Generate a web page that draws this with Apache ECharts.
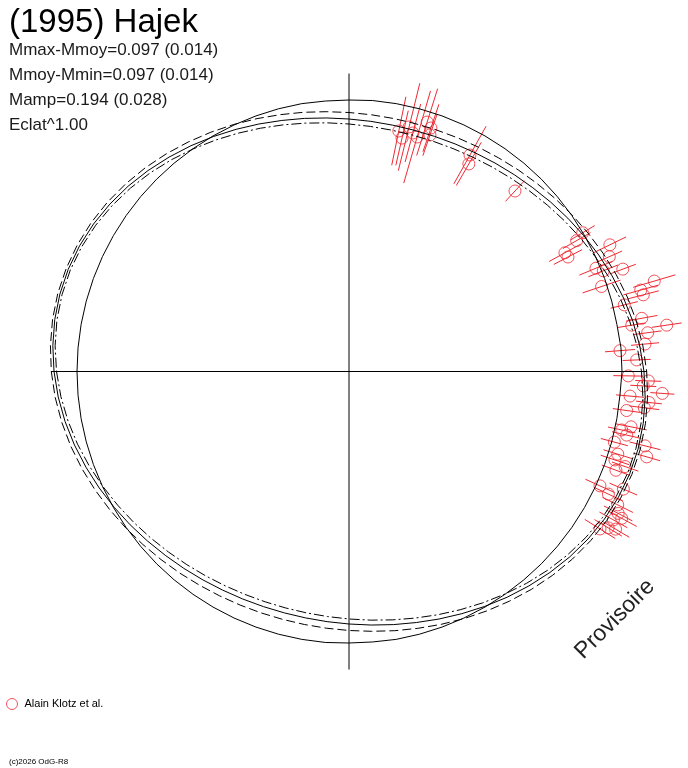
<!DOCTYPE html>
<html>
<head>
<meta charset="utf-8">
<title>(1995) Hajek</title>
<script src="https://cdn.jsdelivr.net/npm/echarts@6/dist/echarts.min.js"></script>
<style>
  html, body { margin: 0; padding: 0; background: #fff; }
  #chart { width: 688px; height: 768px; }
</style>
</head>
<body>
<div id="chart"></div>
<script>
// polar light curve: radius in plot units, angle in degrees (0 = right, counterclockwise)
var curveAngles = [-180, -175, -170, -165, -160, -155, -150, -145, -140, -135, -130, -125, -120, -115, -110, -105, -100, -95,
  -90, -85, -80, -75, -70, -65, -60, -55, -50, -45, -40, -35, -30, -25, -20, -15, -10, -5,
  0, 5, 10, 15, 20, 25, 30, 35, 40, 45, 50, 55, 60, 65, 70, 75, 80, 85,
  90, 95, 100, 105, 110, 115, 120, 125, 130, 135, 140, 145, 150, 155, 160, 165, 170, 175, 180];
var meanCircle = [272, 272, 272, 272, 272, 272, 272, 272, 272, 272, 272, 272, 272, 272, 272, 272, 272, 272,
  271.5, 271.5, 272, 272, 272, 272, 272, 272, 272, 272, 272, 272, 272, 272, 272, 272, 272, 272,
  273, 273, 272, 272, 272, 272, 272, 272, 272, 272, 272, 272, 272, 272, 272, 272, 272, 272,
  271.5, 271.5, 272, 272, 272, 272, 272, 272, 272, 272, 272, 272, 272, 272, 272, 272, 272, 272, 272];
var modelSolid = [295.0, 291.9, 288.3, 284.2, 279.9, 275.6, 271.3, 267.2, 263.4, 259.9, 257.0, 254.5, 252.5, 251.1, 250.2, 249.9, 250.2, 251.1,
  252.5, 254.5, 257.0, 259.9, 263.4, 267.2, 271.3, 275.6, 279.9, 284.2, 288.3, 291.9, 295.0, 297.3, 298.8, 299.3, 298.8, 297.3,
  295.0, 291.9, 288.3, 284.2, 279.9, 275.6, 271.3, 267.2, 263.4, 259.9, 257.0, 254.5, 252.5, 251.1, 250.2, 249.9, 250.2, 251.1,
  252.5, 254.5, 257.0, 259.9, 263.4, 267.2, 271.3, 275.6, 279.9, 284.2, 288.3, 291.9, 295.0, 297.3, 298.8, 299.3, 298.8, 297.3, 295.0];
var modelDashed = [297.7, 295.0, 291.7, 288.1, 284.2, 280.2, 276.3, 272.6, 269.1, 265.9, 263.2, 260.8, 259.0, 257.7, 256.9, 256.6, 256.9, 257.7,
  259.0, 260.8, 263.2, 265.9, 269.1, 272.6, 276.3, 280.2, 284.2, 288.1, 291.7, 295.0, 297.7, 299.7, 301.0, 301.5, 301.0, 299.7,
  297.7, 295.0, 291.7, 288.1, 284.2, 280.2, 276.3, 272.6, 269.1, 265.9, 263.2, 260.8, 259.0, 257.7, 256.9, 256.6, 256.9, 257.7,
  259.0, 260.8, 263.2, 265.9, 269.1, 272.6, 276.3, 280.2, 284.2, 288.1, 291.7, 295.0, 297.7, 299.7, 301.0, 301.5, 301.0, 299.7, 297.7];
var modelDashDot = [292.5, 289.2, 285.3, 281.0, 276.4, 271.7, 267.2, 262.9, 258.9, 255.3, 252.2, 249.6, 247.5, 246.0, 245.1, 244.8, 245.1, 246.0,
  247.5, 249.6, 252.2, 255.3, 258.9, 262.9, 267.2, 271.7, 276.4, 281.0, 285.3, 289.2, 292.5, 295.0, 296.6, 297.1, 296.6, 295.0,
  292.5, 289.2, 285.3, 281.0, 276.4, 271.7, 267.2, 262.9, 258.9, 255.3, 252.2, 249.6, 247.5, 246.0, 245.1, 244.8, 245.1, 246.0,
  247.5, 249.6, 252.2, 255.3, 258.9, 262.9, 267.2, 271.7, 276.4, 281.0, 285.3, 289.2, 292.5, 295.0, 296.6, 297.1, 296.6, 295.0, 292.5];

// observations (Alain Klotz et al.)
var obsAngle = [78.3, 77.2, 76.2, 75.0, 73.8, 72.6, 71.4, 71.1, 60.8, 60.0, 47.4,
  30.7, 29.9, 28.8, 27.6, 25.9, 23.8, 22.7, 21.6, 20.5, 18.6, 16.5, 15.6, 14.6, 13.6, 10.3, 9.3, 8.3, 7.4, 5.3, 4.4, 2.3,
  -0.9, -1.8, -2.8, -4.0, -5.0, -5.9, -8.0, -7.0, -11.1, -12.1, -12.9, -14.9, -14.1, -16.0, -17.1,
  -18.4, -19.0, -20.3, -24.5, -25.3, -23.2, -26.4, -27.8, -28.3, -29.3, -32.1, -31.1, -30.6];
var obsRadius = [245.6, 239.4, 251.8, 246.9, 244.2, 261.4, 256.9, 250.0, 248.0, 239.7, 245.2,
  271.8, 262.6, 246.4, 247.1, 290.0, 284.5, 267.7, 273.5, 292.3, 266.5, 318.4, 302.9, 304.1, 283.2, 297.5, 286.5, 321.1, 301.2, 297.3, 271.8, 287.9,
  279.3, 299.5, 294.6, 314.1, 282.1, 301.6, 280.4, 297.5, 287.4, 278.9, 284.9, 274.6, 305.2, 309.7, 281.2,
  280.3, 292.0, 284.6, 275.8, 286.9, 298.5, 300.0, 304.3, 309.7, 303.2, 296.3, 302.7, 309.7];
var obsError = [35, 28, 45, 30, 48, 35, 25, 22, 33, 25, 14,
  14, 16, 18, 16, 18, 14, 18, 16, 14, 20, 22, 18, 16, 14, 16, 14, 15, 14, 14, 15, 14,
  15, 13, 13, 12, 14, 13, 14, 15, 16, 14, 15, 14, 16, 14, 15,
  15, 14, 15, 16, 16, 15, 17, 16, 17, 16, 18, 16, 16];

var axisReach = 298;
var infoLines = ['Mmax-Mmoy=0.097 (0.014)', 'Mmoy-Mmin=0.097 (0.014)', 'Mamp=0.194 (0.028)', 'Eclat^1.00'];

var RED = '#ee2a33';
var FONT = '"Liberation Sans", Arial, sans-serif';

function curve(values) {
  return curveAngles.map(function (a, i) { return [values[i], a]; });
}

var obsData = obsAngle.map(function (a, i) { return [obsRadius[i], a, obsError[i]]; });

var chart = echarts.init(document.getElementById('chart'), null, { renderer: 'canvas' });

var graphics = [{
  type: 'text', x: 9, y: 23,
  style: { text: '(1995) Hajek', font: '33px ' + FONT, fill: '#000', verticalAlign: 'middle' }
}];
infoLines.forEach(function (t, i) {
  graphics.push({
    type: 'text', x: 9, y: 50 + i * 25,
    style: { text: t, font: '17px ' + FONT, fill: '#1a1a1a', verticalAlign: 'middle' }
  });
});
graphics.push({
  type: 'text', x: 615, y: 619, rotation: Math.PI / 4,
  style: { text: 'Provisoire', font: '23px ' + FONT, fill: '#222', align: 'center', verticalAlign: 'middle' }
});
graphics.push({
  type: 'text', x: 9, y: 762,
  style: { text: '(c)2026 OdG-R8', font: '8px ' + FONT, fill: '#000', verticalAlign: 'middle' }
});

var lineBase = { type: 'line', coordinateSystem: 'polar', symbol: 'none', silent: true };

var option = {
  animation: false,
  backgroundColor: '#fff',
  polar: { center: [349, 371.5], radius: 340 },
  angleAxis: {
    type: 'value', min: -180, max: 180, startAngle: 180, clockwise: false,
    axisLine: { show: false }, axisTick: { show: false }, axisLabel: { show: false }, splitLine: { show: false }
  },
  radiusAxis: {
    type: 'value', min: 0, max: 340,
    axisLine: { show: false }, axisTick: { show: false }, axisLabel: { show: false }, splitLine: { show: false }
  },
  legend: {
    left: 6, top: 698, padding: 0, itemWidth: 11, itemHeight: 11, icon: 'circle', itemGap: 4,
    data: ['Alain Klotz et al.'],
    itemStyle: { borderWidth: 1 },
    textStyle: { fontSize: 11, fontFamily: FONT, color: '#000', padding: [0, 0, 0, 2] }
  },
  graphic: graphics,
  series: [
    Object.assign({}, lineBase, { lineStyle: { color: '#000', width: 1 }, data: [[axisReach, 180], [axisReach, 0]] }),
    Object.assign({}, lineBase, { lineStyle: { color: '#000', width: 1 }, data: [[axisReach, 90], [axisReach, -90]] }),
    Object.assign({}, lineBase, { name: 'mean', lineStyle: { color: '#000', width: 1 }, data: curve(meanCircle) }),
    Object.assign({}, lineBase, { name: 'model', lineStyle: { color: '#000', width: 1 }, data: curve(modelSolid) }),
    Object.assign({}, lineBase, { name: 'model+', lineStyle: { color: '#000', width: 1, type: [9, 4] }, data: curve(modelDashed) }),
    Object.assign({}, lineBase, { name: 'model-', lineStyle: { color: '#000', width: 1, type: [10, 3, 2, 3] }, data: curve(modelDashDot) }),
    {
      name: 'errors', type: 'custom', coordinateSystem: 'polar', silent: true,
      encode: { radius: 0, angle: 1 },
      renderItem: function (params, api) {
        var r = api.value(0), a = api.value(1), e = api.value(2);
        var p1 = api.coord([r - e, a]);
        var p2 = api.coord([r + e, a]);
        return {
          type: 'line',
          shape: { x1: p1[0], y1: p1[1], x2: p2[0], y2: p2[1] },
          style: { stroke: RED, lineWidth: 1 }
        };
      },
      data: obsData
    },
    {
      name: 'Alain Klotz et al.', type: 'scatter', coordinateSystem: 'polar',
      symbol: 'circle', symbolSize: 12,
      itemStyle: { color: 'rgba(255,255,255,0)', borderColor: RED, borderWidth: 1 },
      data: obsData.map(function (d) { return [d[0], d[1]]; })
    }
  ]
};
chart.setOption(option);
</script>
</body>
</html>
